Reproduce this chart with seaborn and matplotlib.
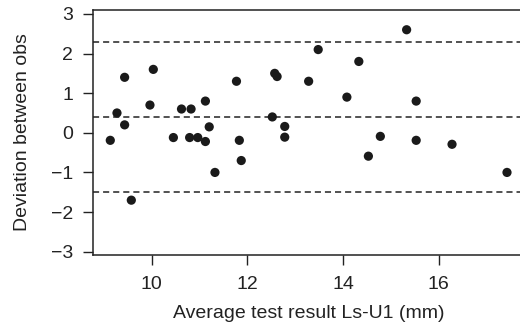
# Bland-Altman style plot: deviation between observers vs average Ls-U1
import seaborn as sns
import matplotlib.pyplot as plt
import pandas as pd

sns.set_style("ticks")
plt.rcParams['font.family'] = ['Liberation Sans', 'DejaVu Sans']

avg_result = [9.13, 9.27, 9.43, 9.43, 9.57, 9.96, 10.03, 10.45, 10.62, 10.79,
              10.82, 10.96, 11.12, 11.12, 11.2, 11.32, 11.77, 11.83, 11.87,
              12.52, 12.57, 12.62, 12.78, 12.78, 13.28, 13.48, 14.08, 14.33,
              14.53, 14.78, 15.33, 15.53, 15.53, 16.28, 17.43]
deviation = [-0.19, 0.5, 1.4, 0.2, -1.7, 0.7, 1.6, -0.12, 0.6, -0.12,
             0.6, -0.12, 0.8, -0.22, 0.15, -1.0, 1.3, -0.19, -0.7,
             0.4, 1.5, 1.42, 0.16, -0.11, 1.3, 2.1, 0.9, 1.8,
             -0.59, -0.09, 2.6, 0.8, -0.19, -0.29, -1.0]
limits = [2.3, 0.4, -1.5]  # upper LoA, mean, lower LoA

df = pd.DataFrame({'avg': avg_result, 'dev': deviation})

fig = plt.figure(figsize=(5.2, 3.31), dpi=100)
ax = fig.add_axes([0.179, 0.23, 0.83, 0.74])

sns.scatterplot(data=df, x='avg', y='dev', ax=ax, color='#1a1a1a',
                s=44, edgecolor='none', zorder=3)
for lim in limits:
    ax.axhline(lim, color='#222222', lw=1.1, ls=(0, (4, 2.6)), zorder=2)

ax.set_xlim(8.77, 17.8)
ax.set_ylim(-3.08, 3.1)
ax.set_xticks([10, 12, 14, 16])
ax.set_yticks([3, 2, 1, 0, -1, -2, -3])
ax.tick_params(direction='out', length=7.5, width=1, labelsize=14,
               color='#222222', labelcolor='#222222')
ax.tick_params(axis='x', pad=8)
ax.tick_params(axis='y', pad=7)
for side in ['left', 'top', 'bottom']:
    ax.spines[side].set_linewidth(1.1)
    ax.spines[side].set_color('#222222')
ax.spines['right'].set_visible(False)

ax.set_xlabel('Average test result Ls-U1 (mm)', fontsize=14, color='#222222', labelpad=8)
ax.set_ylabel('Deviation between obs', fontsize=14, color='#222222', labelpad=14)

fig.savefig('out.png', dpi=100)
